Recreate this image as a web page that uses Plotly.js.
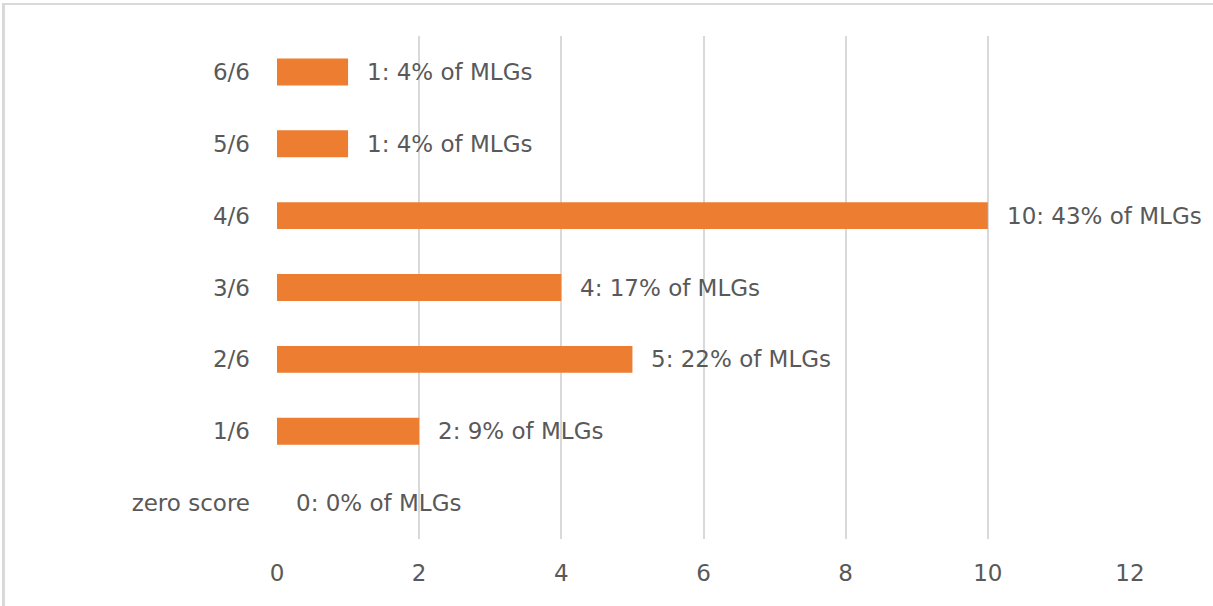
<!DOCTYPE html>
<html>
<head>
<meta charset="utf-8">
<script src="https://cdn.plot.ly/plotly-3.0.1.min.js"></script>
<style>
html,body{margin:0;padding:0;background:#fff;}
#wrap{position:relative;width:1213px;height:606px;overflow:hidden;}
#chart{width:1213px;height:606px;}
#frame{position:absolute;left:2px;top:3px;width:1215px;height:610px;border-left:3px solid #d9d9d9;border-top:2px solid #d9d9d9;pointer-events:none;}
</style>
</head>
<body>
<div id="wrap"><div id="chart"></div><div id="frame"></div></div>
<script>
const categories = ["zero score", "1/6", "2/6", "3/6", "4/6", "5/6", "6/6"];
const counts = [0, 2, 5, 4, 10, 1, 1];
const percents = [0, 9, 22, 17, 43, 4, 4];
const xTicks = [0, 2, 4, 6, 8, 10, 12];

const labels = counts.map((c, i) => c + ": " + percents[i] + "% of MLGs");
const fontFam = "DejaVu Sans, sans-serif";
const fontSize = 23;
const textColor = "#595959";

const trace = {
  type: "bar",
  orientation: "h",
  y: categories,
  x: counts,
  marker: {color: "#ED7D31"},
  width: 0.375,
  hoverinfo: "none"
};

const annotations = categories.map((cat, i) => ({
  x: counts[i], y: cat, xref: "x", yref: "y",
  text: labels[i], showarrow: false,
  xanchor: "left", yanchor: "middle", xshift: 17,
  font: {family: fontFam, size: fontSize, color: textColor}
}));

const layout = {
  width: 1213, height: 606,
  margin: {l: 277, r: 83, t: 36, b: 67},
  paper_bgcolor: "#fff", plot_bgcolor: "#fff",
  showlegend: false,
  xaxis: {
    range: [0, 12], tickvals: xTicks, ticktext: xTicks.map(String),
    showgrid: true, gridcolor: "#d9d9d9", gridwidth: 2,
    zeroline: false, showline: false, ticks: "",
    ticklabelstandoff: 18,
    tickfont: {family: fontFam, size: fontSize, color: textColor},
    fixedrange: true
  },
  yaxis: {
    type: "category", categoryorder: "array", categoryarray: categories,
    showgrid: false, zeroline: false, showline: false, ticks: "",
    ticklabelstandoff: 26,
    tickfont: {family: fontFam, size: fontSize, color: textColor},
    fixedrange: true
  },
  annotations: annotations
};

Plotly.newPlot("chart", [trace], layout, {displayModeBar: false, staticPlot: true});
</script>
</body>
</html>
